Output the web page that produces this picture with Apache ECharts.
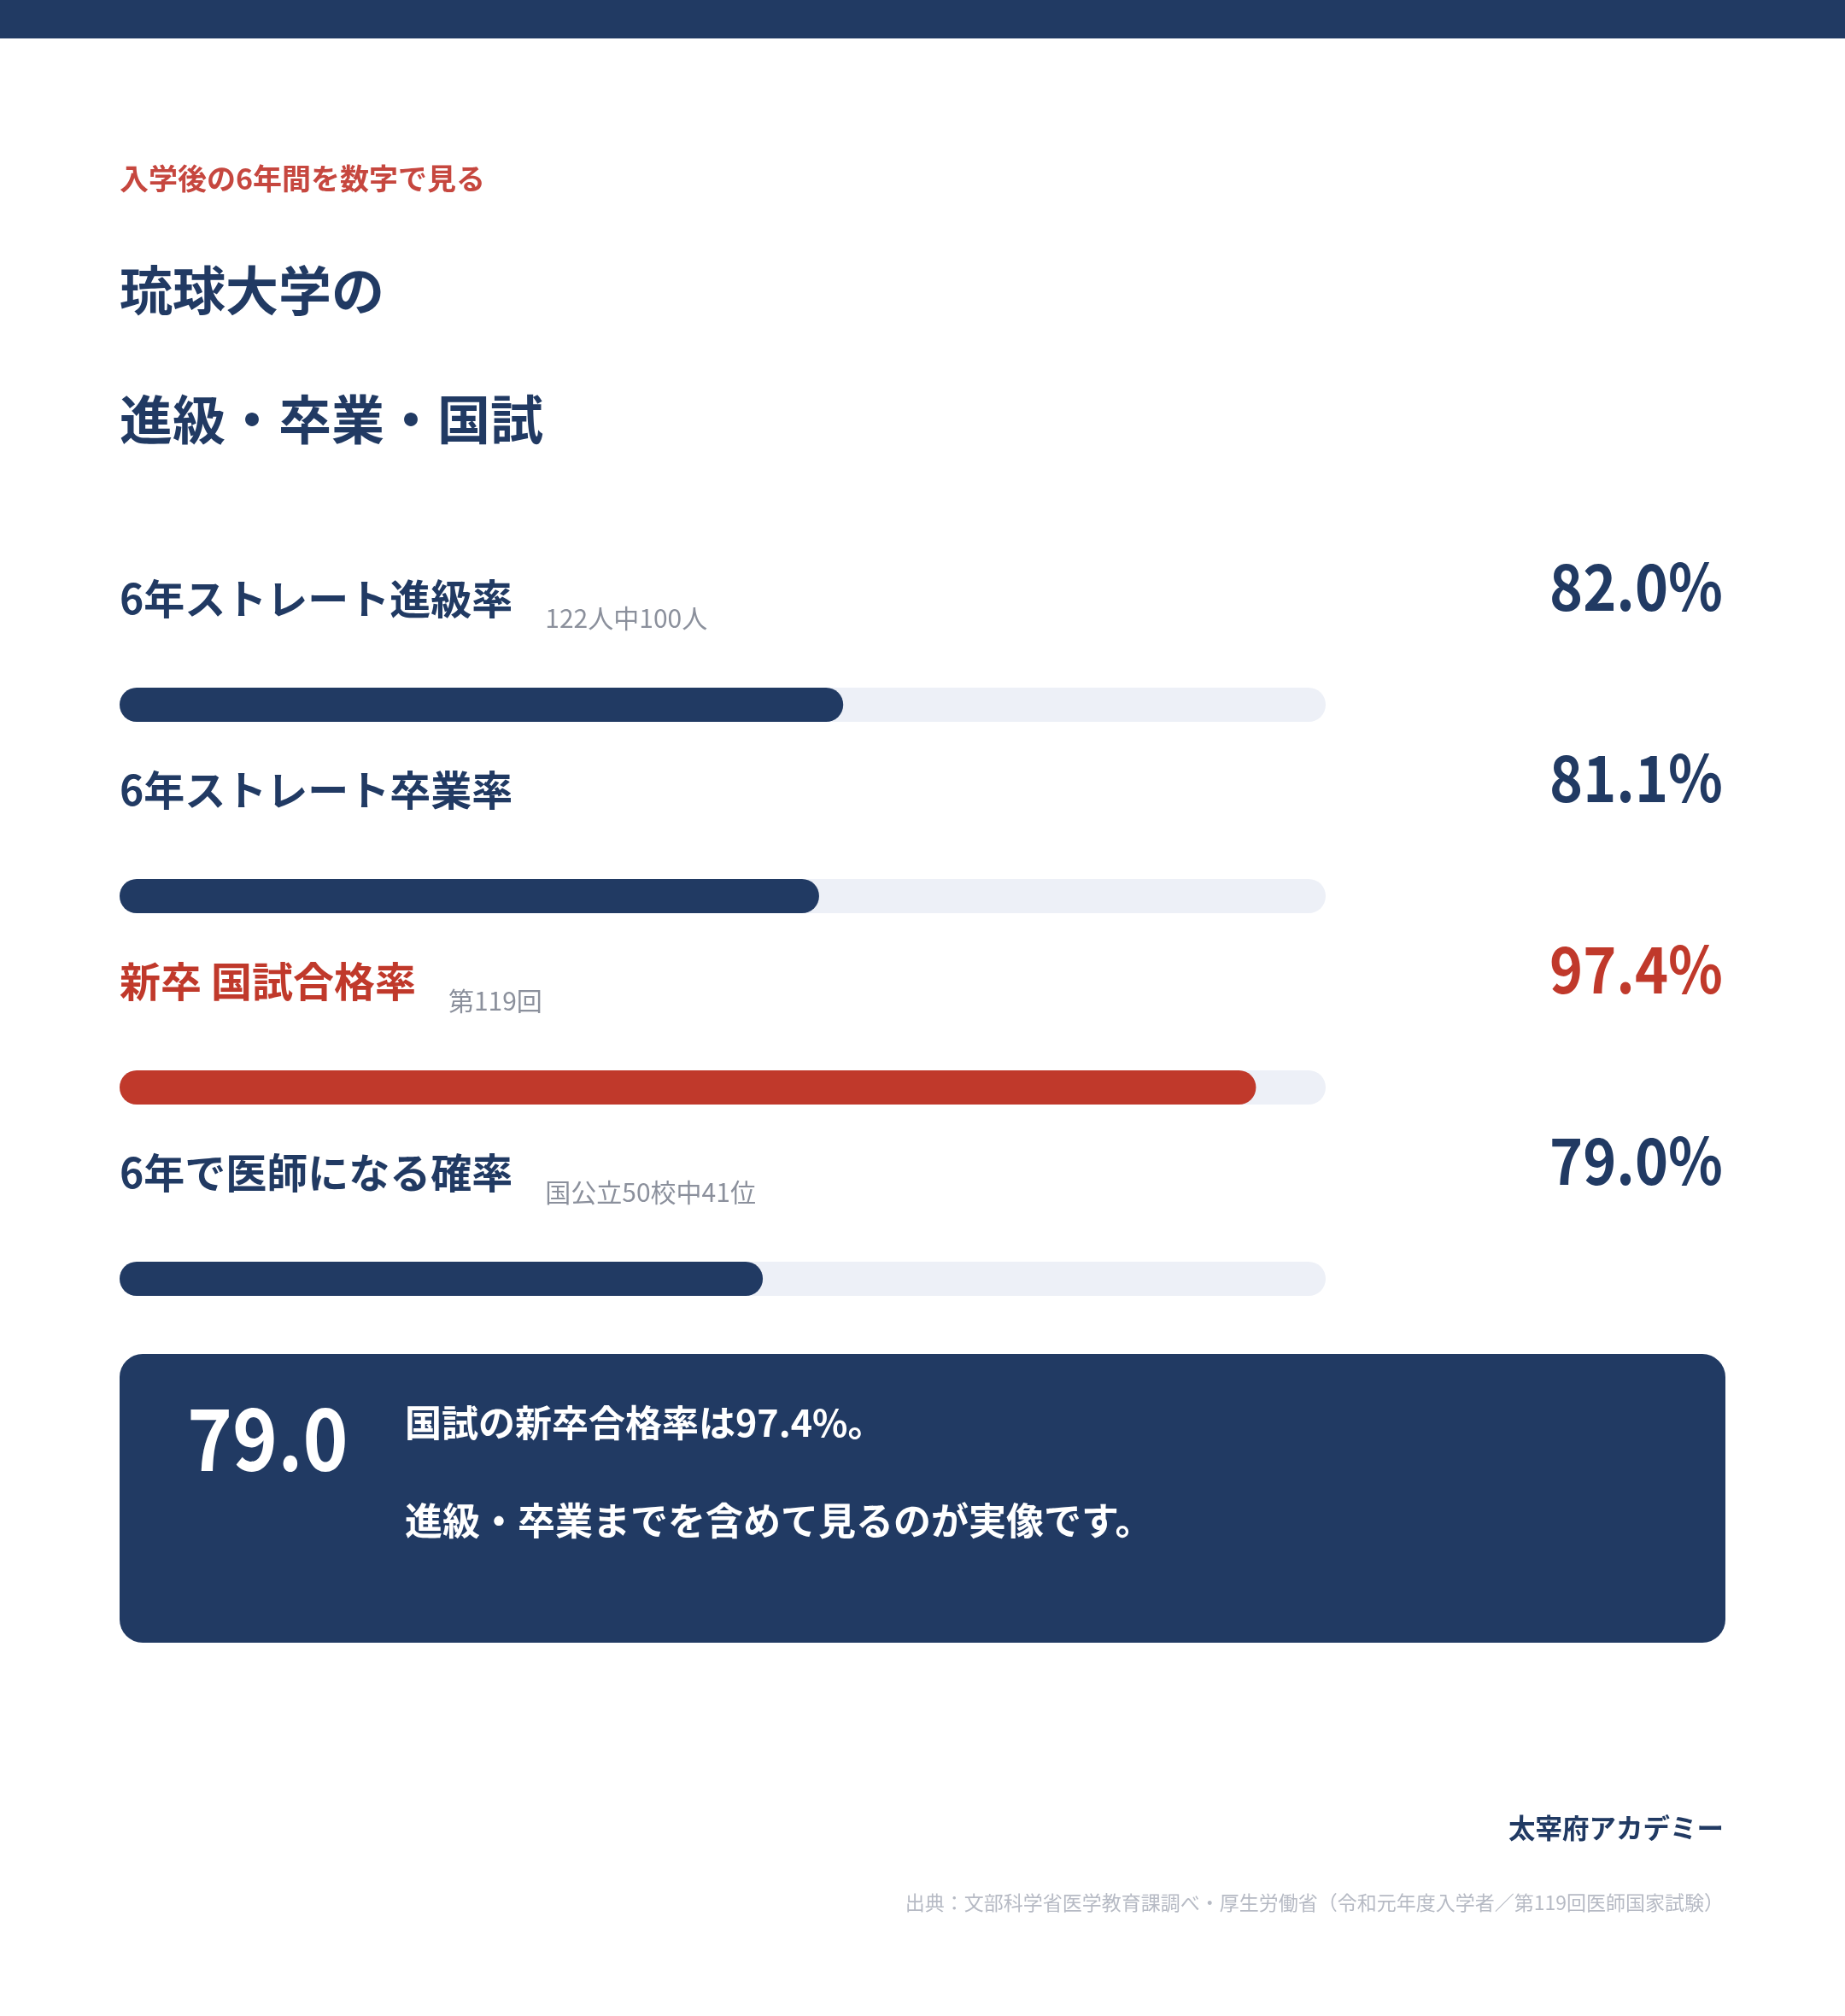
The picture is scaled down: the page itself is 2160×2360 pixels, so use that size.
<!DOCTYPE html>
<html><head><meta charset="utf-8">
<script src="https://cdn.jsdelivr.net/npm/echarts@6/dist/echarts.min.js"></script>
<style>html,body{margin:0;padding:0;background:#fff}#c{width:2160px;height:2360px}</style>
</head><body><div id="c"></div>
<script>
// ---- data ----
const categories = ['6年ストレート進級率', '6年ストレート卒業率', '新卒 国試合格率', '6年で医師になる確率'];
const notes = ['122人中100人', '', '第119回', '国公立50校中41位'];
const rates = [82.0, 81.1, 97.4, 79.0];
const trackMax = [100, 100, 100, 100];
const highlight = [false, false, true, false];
const axisRange = [55, 100];
const subtitle = '入学後の6年間を数字で見る';
const titleLines = ['琉球大学の', '進級・卒業・国試'];
const brand = '太宰府アカデミー';
const source = '出典：文部科学省医学教育課調べ・厚生労働省（令和元年度入学者／第119回医師国家試験）';

// ---- style ----
const NAVY = '#213a63', RED = '#c0392b', TRACK = '#edf0f7', GRAY = '#8b909c';
const FONT = '"Noto Sans CJK JP", "Noto Sans", sans-serif';

const chart = echarts.init(document.getElementById('c'), null, {renderer: 'canvas'});

const mainData = rates.map((v, i) => ({
  value: v,
  itemStyle: {color: highlight[i] ? RED : NAVY}
}));

chart.setOption({
  animation: false,
  backgroundColor: '#ffffff',
  grid: {left: 140, right: 608, top: 713, height: 896, containLabel: false},
  xAxis: {type: 'value', min: axisRange[0], max: axisRange[1], startValue: axisRange[0], show: false},
  yAxis: {type: 'category', data: categories, inverse: true, show: false},
  series: [
    {
      type: 'bar', data: trackMax, barWidth: 40, barGap: '-100%', silent: true,
      itemStyle: {color: TRACK, borderRadius: 20}
    },
    {
      type: 'bar', data: mainData, barWidth: 40, barGap: '-100%', silent: true,
      itemStyle: {borderRadius: 20},
      label: {
        show: true, position: [0, -104], align: 'left', verticalAlign: 'middle',
        fontFamily: FONT,
        formatter: p => {
          const i = p.dataIndex;
          const nm = highlight[i] ? 'nameRed' : 'name';
          return '{' + nm + '|' + categories[i] + '}' + (notes[i] ? '{note|' + notes[i] + '}' : '');
        },
        rich: {
          name: {fontFamily: FONT, fontWeight: 'bold', fontSize: 48, color: NAVY, lineHeight: 76, verticalAlign: 'middle'},
          nameRed: {fontFamily: FONT, fontWeight: 'bold', fontSize: 48, color: RED, lineHeight: 76, verticalAlign: 'middle'},
          note: {fontFamily: FONT, fontWeight: 'normal', fontSize: 30, color: GRAY, lineHeight: 30, verticalAlign: 'bottom', padding: [0, 0, 0, 38]}
        }
      }
    }
  ]
});

// value texts placed through the chart's own scales
const xRight = chart.convertToPixel({xAxisIndex: 0}, axisRange[1]);
const valueTexts = rates.map((v, i) => {
  const yc = chart.convertToPixel({yAxisIndex: 0}, i);
  return {
    type: 'text', x: xRight + 465, y: yc - 139, scaleX: 0.885, silent: true,
    style: {text: v.toFixed(1) + '%', fontFamily: FONT, fontWeight: 'bold', fontSize: 75,
      fill: highlight[i] ? RED : NAVY, align: 'right', verticalAlign: 'middle'}
  };
});

const staticGraphics = [
  {type: 'rect', shape: {x: 0, y: 0, width: 2160, height: 45}, style: {fill: NAVY}, silent: true},
  {type: 'text', x: 140, y: 209, style: {text: subtitle, fontFamily: FONT, fontWeight: 'bold', fontSize: 34, fill: '#c6473f', align: 'left', verticalAlign: 'middle'}},
  {type: 'text', x: 140, y: 340, style: {text: titleLines[0], fontFamily: FONT, fontWeight: 'bold', fontSize: 62, fill: NAVY, align: 'left', verticalAlign: 'middle'}},
  {type: 'text', x: 140, y: 491, style: {text: titleLines[1], fontFamily: FONT, fontWeight: 'bold', fontSize: 62, fill: NAVY, align: 'left', verticalAlign: 'middle'}},
  {type: 'rect', shape: {x: 140, y: 1585, width: 1880, height: 338, r: 27}, style: {fill: NAVY}, silent: true},
  {type: 'text', x: 219, y: 1684, scaleX: 0.9, style: {text: rates[3].toFixed(1), fontFamily: FONT, fontWeight: 'bold', fontSize: 100, fill: '#ffffff', align: 'left', verticalAlign: 'middle'}},
  {type: 'text', x: 474, y: 1666, style: {text: '国試の新卒合格率は' + rates[2].toFixed(1) + '%。', fontFamily: FONT, fontWeight: 'bold', fontSize: 43, fill: '#ffffff', align: 'left', verticalAlign: 'middle'}},
  {type: 'text', x: 474, y: 1780, style: {text: '進級・卒業までを含めて見るのが実像です。', fontFamily: FONT, fontWeight: 'bold', fontSize: 44, fill: '#ffffff', align: 'left', verticalAlign: 'middle'}},
  {type: 'text', x: 2018, y: 2140, style: {text: brand, fontFamily: FONT, fontWeight: 'bold', fontSize: 31.5, fill: NAVY, align: 'right', verticalAlign: 'middle'}},
  {type: 'text', x: 2018, y: 2227, style: {text: source, fontFamily: FONT, fontWeight: 'normal', fontSize: 23, fill: '#b6bac4', align: 'right', verticalAlign: 'middle'}}
];

chart.setOption({graphic: staticGraphics.concat(valueTexts)});
</script></body></html>
